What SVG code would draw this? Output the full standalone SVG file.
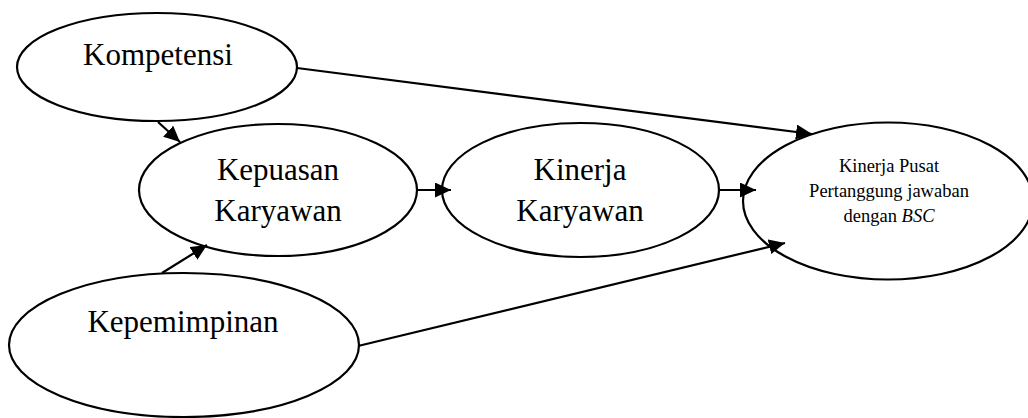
<svg xmlns="http://www.w3.org/2000/svg" width="1028" height="418" viewBox="0 0 1028 418">
  <style>
    .node { fill: #ffffff; stroke: #000000; stroke-width: 2.2; }
    .label { font-family: "Liberation Serif", "Times New Roman", serif; font-size: 31px; fill: #000000; text-anchor: middle; }
    .small { font-family: "Liberation Serif", "Times New Roman", serif; font-size: 18.5px; fill: #000000; text-anchor: middle; }
    .edge { fill: none; stroke: #000000; stroke-width: 2.2; marker-end: url(#arrow); }
  </style>
  <defs>
    <marker id="arrow" viewBox="0 0 16 15" refX="16" refY="7.5" markerWidth="16" markerHeight="15" markerUnits="userSpaceOnUse" orient="auto">
      <path d="M0,0 L16,7.5 L0,15 z" fill="#000000"/>
    </marker>
  </defs>
  <rect width="1028" height="418" fill="#ffffff"/>

  <g id="kompetensi">
    <ellipse class="node" cx="157" cy="67" rx="140" ry="54"/>
    <text class="label" x="158" y="65">Kompetensi</text>
  </g>

  <g id="kepuasan-karyawan">
    <ellipse class="node" cx="278" cy="190" rx="139" ry="66"/>
    <text class="label" x="278" y="180">Kepuasan</text>
    <text class="label" x="278" y="221">Karyawan</text>
  </g>

  <g id="kinerja-karyawan">
    <ellipse class="node" cx="580.5" cy="190" rx="138.5" ry="67"/>
    <text class="label" x="580" y="180">Kinerja</text>
    <text class="label" x="580" y="221">Karyawan</text>
  </g>

  <g id="kinerja-pusat">
    <ellipse class="node" cx="888" cy="201" rx="145" ry="78.5"/>
    <text class="small" x="889" y="172">Kinerja Pusat</text>
    <text class="small" x="889" y="197">Pertanggung jawaban</text>
    <text class="small" x="889" y="222">dengan <tspan font-style="italic">BSC</tspan></text>
  </g>

  <g id="kepemimpinan">
    <ellipse class="node" cx="184" cy="345" rx="175" ry="72"/>
    <text class="label" x="183" y="332">Kepemimpinan</text>
  </g>

  <g id="connectors">
    <line class="edge" x1="158" y1="122" x2="180" y2="142"/>
    <line class="edge" x1="162" y1="273" x2="207" y2="245"/>
    <line class="edge" x1="417" y1="190" x2="451" y2="190"/>
    <line class="edge" x1="719" y1="190" x2="756" y2="190"/>
    <line class="edge" x1="297" y1="68" x2="812" y2="134"/>
    <line class="edge" x1="358" y1="346" x2="785" y2="243"/>
  </g>
</svg>
